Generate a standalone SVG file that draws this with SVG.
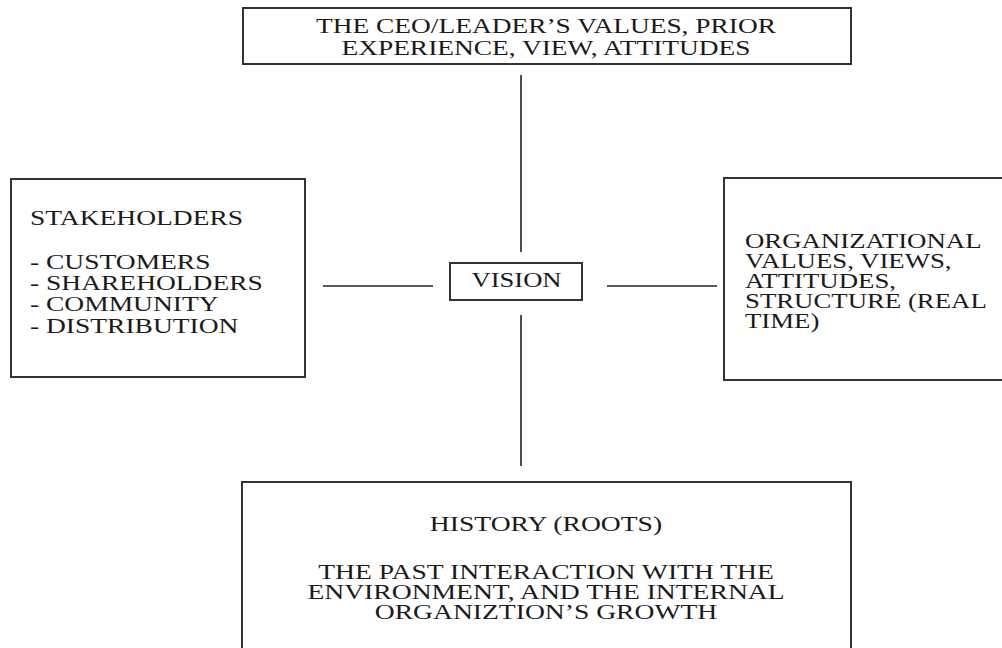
<svg xmlns="http://www.w3.org/2000/svg" width="1002" height="648" viewBox="0 0 1002 648">
<style>
.box{fill:#fff;stroke:#333;stroke-width:2}
.t{font-family:"Liberation Serif","Times New Roman",serif;font-size:20px;fill:#1a1a1a}
.c{stroke:#222;stroke-width:1.6;fill:none}
</style>
<rect width="1002" height="648" fill="#fff"/>
<g id="connectors">
<line class="c" x1="521" y1="75" x2="521" y2="252"/>
<line class="c" x1="521" y1="315" x2="521" y2="466"/>
<line class="c" x1="323" y1="286" x2="433" y2="286"/>
<line class="c" x1="607" y1="286" x2="717" y2="286"/>
</g>
<g id="ceo">
<rect class="box" x="243" y="8" width="608" height="56"/>
<text class="t" text-anchor="middle" transform="translate(546,0) scale(1.37,1)"><tspan x="0" y="33">THE CEO/LEADER’S VALUES, PRIOR</tspan><tspan x="0" y="55">EXPERIENCE, VIEW, ATTITUDES</tspan></text>
</g>
<g id="stakeholders">
<rect class="box" x="11" y="179" width="294" height="198"/>
<text class="t" transform="translate(30,0) scale(1.375,1)"><tspan x="0" y="225">STAKEHOLDERS</tspan><tspan x="0" y="269">- CUSTOMERS</tspan><tspan x="0" y="290">- SHAREHOLDERS</tspan><tspan x="0" y="311.5">- COMMUNITY</tspan><tspan x="0" y="333">- DISTRIBUTION</tspan></text>
</g>
<g id="vision">
<rect class="box" x="450" y="263" width="132" height="37"/>
<text class="t" text-anchor="middle" transform="translate(516.5,0) scale(1.33,1)"><tspan x="0" y="287">VISION</tspan></text>
</g>
<g id="organizational">
<rect class="box" x="724" y="178" width="290" height="202"/>
<text class="t" transform="translate(745,0) scale(1.34,1)"><tspan x="0" y="248.5">ORGANIZATIONAL</tspan><tspan x="0" y="268.5">VALUES, VIEWS,</tspan><tspan x="0" y="288.5">ATTITUDES,</tspan><tspan x="0" y="308.5">STRUCTURE (REAL</tspan><tspan x="0" y="328.5">TIME)</tspan></text>
</g>
<g id="history">
<rect class="box" x="242" y="482" width="609" height="180"/>
<text class="t" text-anchor="middle" transform="translate(546,0) scale(1.38,1)"><tspan x="0" y="531">HISTORY (ROOTS)</tspan><tspan x="0" y="579">THE PAST INTERACTION WITH THE</tspan><tspan x="0" y="599">ENVIRONMENT, AND THE INTERNAL</tspan><tspan x="0" y="619">ORGANIZTION’S GROWTH</tspan></text>
</g>
</svg>
